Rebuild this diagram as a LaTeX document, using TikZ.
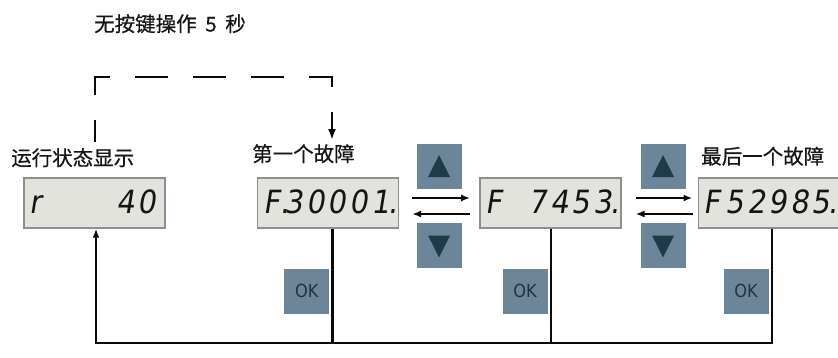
\documentclass[tikz,border=0pt]{standalone}
\usepackage{fontspec}
\setmainfont{Noto Sans CJK SC}[FakeBold=0.6]
\newfontfamily\segfont{DejaVu Sans Condensed}[FakeSlant=0.16]
\newfontfamily\okfont{DejaVu Sans Condensed}
\usetikzlibrary{positioning,calc,arrows.meta}
\definecolor{dispfill}{HTML}{E3E3DD}
\definecolor{displine}{HTML}{8E8E8E}
\definecolor{segink}{HTML}{141414}
\definecolor{lblink}{HTML}{161616}
\definecolor{btnfill}{HTML}{6C8599}
\definecolor{btnmark}{HTML}{1E3B47}
\definecolor{oktext}{HTML}{1F3442}
\definecolor{lineblk}{HTML}{0A0A0A}
% one digit cell of the display, the dot between two cells, and the right margin
\newcommand\sg[1]{\makebox[21.6pt][l]{#1}}
\newcommand\sgdot{\makebox[0pt]{.}}
\newcommand\sgend{\hspace{9pt}}
\tikzset{
  disp/.style={draw=displine,line width=1.4pt,fill=dispfill,minimum width=141pt,minimum height=50pt,
    inner sep=0pt,font=\segfont\fontsize{32}{32}\selectfont,text=segink,text height=25pt,text depth=4pt},
  lbl/.style={inner sep=0pt,anchor=base west,font=\fontsize{20.5}{24}\selectfont,text=lblink},
  btn/.style={fill=btnfill,minimum size=45pt,inner sep=0pt},
  upbtn/.style={btn,path picture={\fill[btnmark] ([yshift=11.5pt]path picture bounding box.center)
    -- ++(-11pt,-22pt) -- ++(22pt,0pt) -- cycle;}},
  downbtn/.style={btn,path picture={\fill[btnmark] ([xshift=-11pt,yshift=10pt]path picture bounding box.center)
    -- ++(22pt,0pt) -- ++(-11pt,-22pt) -- cycle;}},
  okbtn/.style={btn,font=\okfont\fontsize{18}{18}\selectfont,text=oktext},
  conn/.style={draw=lineblk,line width=2.2pt},
  arr/.style={-{Latex[length=9pt,width=7pt]}},
  dashln/.style={draw=lineblk,line width=2.5pt,dash pattern=on 33pt off 25pt,dash phase=11pt,
    -{Latex[length=11pt,width=8pt]}},
}
\begin{document}
\begin{tikzpicture}[x=1pt,y=-1pt]
  \useasboundingbox (0,0) rectangle (838,357);
  % displays
  \node[disp] (disp1) at (94.5,203) {\sg{r}\sg{}\sg{}\sg{}\sg{4}\sg{0}\sgend};
  \node[disp,right=91pt of disp1] (disp2) {\sg{F}\sgdot\sg{3}\sg{0}\sg{0}\sg{0}\sg{1}\sgdot\sgend};
  \node[disp,right=80pt of disp2] (disp3) {\sg{F}\sg{}\sg{7}\sg{4}\sg{5}\sg{3}\sgdot\sgend};
  \node[disp,right=76pt of disp3] (disp4) {\sg{F}\sg{5}\sg{2}\sg{9}\sg{8}\sg{5}\sgdot\sgend};
  % labels
  \node[lbl] (title) at (94,31.5) {无按键操作 \kern4pt5 \kern4pt秒};
  \node[lbl] (lblrun) at (11,165.5) {运行状态显示};
  \node[lbl] (lblfirst) at (252,161.5) {第一个故障};
  \node[lbl] (lbllast) at (701,164) {最后一个故障};
  % up / down keys
  \node[upbtn] (up1) at ($(disp2.east)!0.5!(disp3.west)+(0,-36.5)$) {};
  \node[downbtn] (down1) at ($(disp2.east)!0.5!(disp3.west)+(0,42.5)$) {};
  \node[upbtn] (up2) at ($(disp3.east)!0.5!(disp4.west)+(3.5,-36.5)$) {};
  \node[downbtn] (down2) at ($(disp3.east)!0.5!(disp4.west)+(3.5,42.5)$) {};
  % drop points under the displays
  \coordinate (d1) at ([xshift=1.5pt]disp1.south);
  \coordinate (d2) at ([xshift=4.5pt]disp2.south);
  \coordinate (d3) at ([xshift=0.5pt]disp3.south);
  \coordinate (d4) at ([xshift=3pt]disp4.south);
  \coordinate (bot) at (0,343);
  \foreach \d/\n in {d2/ok1,d3/ok2,d4/ok3}
    \node[okbtn,below left=40pt and 3pt of \d] (\n) {OK};
  % scrolling between faults
  \draw[conn,arr] ([xshift=13pt,yshift=5pt]disp2.east) -- ([xshift=-9pt,yshift=5pt]disp3.west);
  \draw[conn,arr] ([xshift=-9pt,yshift=-11pt]disp3.west) -- ([xshift=13pt,yshift=-11pt]disp2.east);
  \draw[conn,arr] ([xshift=14pt,yshift=5pt]disp3.east) -- ([xshift=-5pt,yshift=5pt]disp4.west);
  \draw[conn,arr] ([xshift=-5pt,yshift=-11pt]disp4.west) -- ([xshift=14pt,yshift=-11pt]disp3.east);
  % OK returns to the run display
  \foreach \d in {d2,d3} \draw[conn] (\d) -- (\d |- bot);
  \draw[conn,arr] (d4) |- (d1 |- bot) -- (d1);
  % timeout: 5 s without key
  \coordinate (dsrt) at (95,142);
  \coordinate (dend) at (332,140);
  \coordinate (dtop) at (0,77);
  \draw[dashln] (dsrt) -- (dsrt |- dtop) -| (dend);
\end{tikzpicture}
\end{document}
